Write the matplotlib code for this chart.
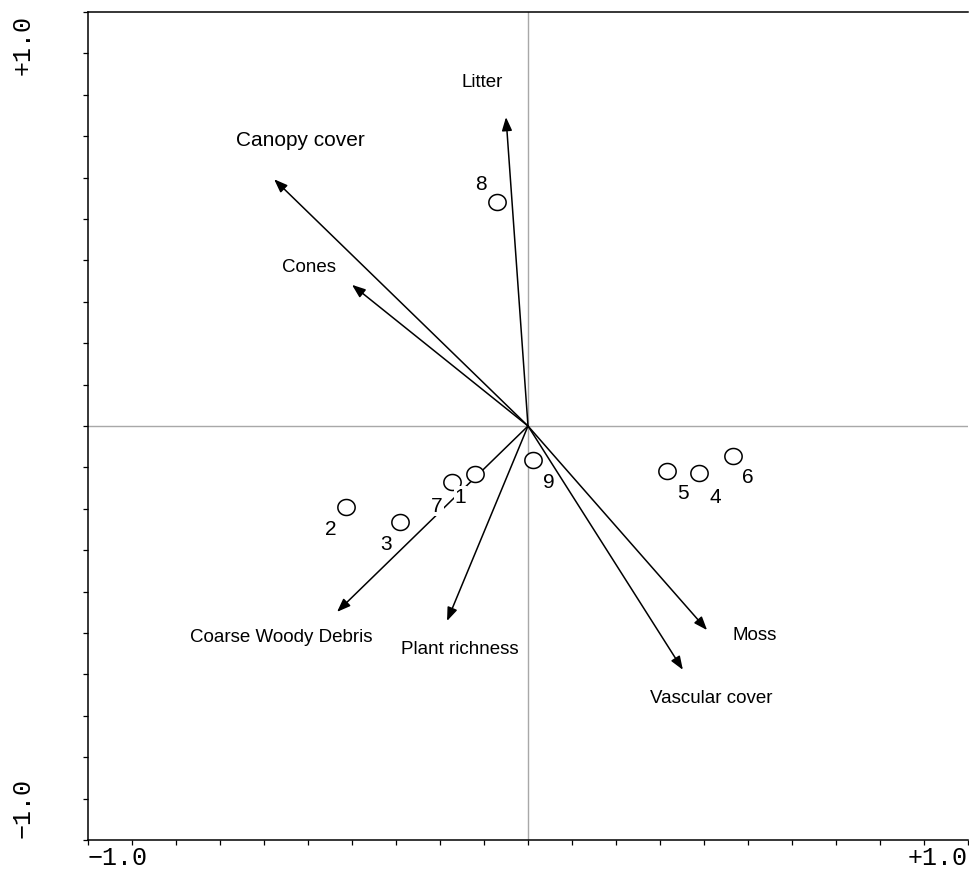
import matplotlib
matplotlib.use('Agg')
import matplotlib.pyplot as plt
import numpy as np
from matplotlib.path import Path


# Environmental variables (biplot arrows)
env_names = ['Litter', 'Canopy cover', 'Cones', 'Coarse Woody Debris',
             'Plant richness', 'Moss', 'Vascular cover']
env_x = [-0.050, -0.577, -0.400, -0.434, -0.184, 0.407, 0.352]
env_y = [0.746, 0.596, 0.341, -0.449, -0.471, -0.493, -0.589]

# Sites (sample scores)
site_ids = ['1', '2', '3', '4', '5', '6', '7', '8', '9']
site_x = [-0.120, -0.414, -0.291, 0.389, 0.316, 0.466, -0.173, -0.070, 0.011]
site_y = [-0.116, -0.196, -0.232, -0.114, -0.109, -0.072, -0.135, 0.541, -0.082]

# Label placement, in pixels from the arrow tip / site symbol
env_label_offset = {
    'Litter': (-24, 36),
    'Canopy cover': (26, 40),
    'Cones': (-43, 18),
    'Coarse Woody Debris': (-56, -25),
    'Plant richness': (13, -28),
    'Moss': (48, -4),
    'Vascular cover': (28, -28),
}
env_label_size = {'Canopy cover': 15}
site_label_offset = {
    '1': (-15, -22), '2': (-15, -21), '3': (-14, -21), '4': (16, -23),
    '5': (16, -21), '6': (15, -21), '7': (-15, -24), '8': (-16, 19),
    '9': (16, -22),
}

sans = 'Liberation Sans'
mono = 'Liberation Mono'

fig = plt.figure(figsize=(9.69, 8.70), dpi=100)
ax = fig.add_axes([88 / 969, 1 - 841 / 870, 880 / 969, 828 / 870])
ax.set_xlim(-1, 1)
ax.set_ylim(-1, 1)

# axis frame: left, top, bottom only
ax.spines['right'].set_visible(False)
for side in ['left', 'top', 'bottom']:
    ax.spines[side].set_linewidth(1.1)
ticks = np.round(np.arange(-1.0, 1.01, 0.1), 1)
ax.set_xticks(ticks)
ax.set_yticks(ticks)
ax.tick_params(direction='out', length=3.5, width=0.9, labelbottom=False,
               labelleft=False)

# zero lines
ax.axhline(0, color='#a8a8a8', lw=1.0, zorder=1)
ax.axvline(0, color='#a8a8a8', lw=1.0, zorder=1)

# arrows
for name, x, y in zip(env_names, env_x, env_y):
    ax.annotate('', xy=(x, y), xytext=(0, 0),
                arrowprops=dict(arrowstyle='-|>,head_length=0.45,head_width=0.17',
                                color='black', lw=1.1, mutation_scale=18,
                                shrinkA=0, shrinkB=0),
                zorder=2)
    dx, dy = env_label_offset[name]
    ax.annotate(name, xy=(x, y), xytext=(dx, dy), textcoords='offset pixels',
                ha='center', va='center', family=sans,
                fontsize=env_label_size.get(name, 13.5), zorder=4)

# site symbols: slightly flattened open circles
t = np.linspace(0, 2 * np.pi, 61)
ellipse = Path(np.column_stack([1.08 * np.cos(t), np.sin(t)]), closed=True)
ax.scatter(site_x, site_y, marker=ellipse, s=155, facecolor='white',
           edgecolor='black', linewidths=1.1, zorder=3)
for sid, x, y in zip(site_ids, site_x, site_y):
    dx, dy = site_label_offset[sid]
    ax.annotate(sid, xy=(x, y), xytext=(dx, dy), textcoords='offset pixels',
                ha='center', va='center', family=sans, fontsize=15,
                bbox=dict(fc='white', ec='none', pad=0.6), zorder=4)

# end labels of the axes
ax.annotate('\u22121.0', xy=(0, 0), xycoords='axes fraction', xytext=(0, -5),
            textcoords='offset pixels', ha='left', va='top', family=mono,
            fontsize=18)
ax.annotate('+1.0', xy=(1, 0), xycoords='axes fraction', xytext=(0, -5),
            textcoords='offset pixels', ha='right', va='top', family=mono,
            fontsize=18)
ax.annotate('+1.0', xy=(0, 1), xycoords='axes fraction', xytext=(-65, -2),
            textcoords='offset pixels', ha='center', va='top', rotation=90,
            family=mono, fontsize=18)
ax.annotate('\u22121.0', xy=(0, 0), xycoords='axes fraction', xytext=(-65, 3),
            textcoords='offset pixels', ha='center', va='bottom', rotation=90,
            family=mono, fontsize=18)

fig.savefig('out.png', dpi=100, facecolor='white')
